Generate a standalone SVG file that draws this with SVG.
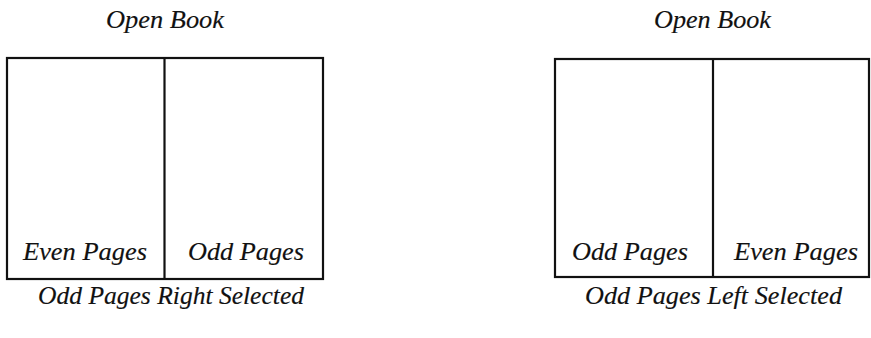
<svg xmlns="http://www.w3.org/2000/svg" width="871" height="338" viewBox="0 0 871 338">
<style>
text{font-family:'Liberation Serif','Times New Roman',Times,serif;font-style:italic;font-weight:normal;font-size:25px;fill:#111;stroke:#111;stroke-width:0.15}
.box{fill:none;stroke:#111;stroke-width:2.2}
</style>
<rect width="871" height="338" fill="#fff"/>
<g id="left-book">
<text x="106" y="28" textLength="118" lengthAdjust="spacingAndGlyphs">Open Book</text>
<rect class="box" x="7" y="58" width="316" height="221"/>
<line class="box" x1="164.5" y1="58" x2="164.5" y2="279"/>
<text x="23" y="260" textLength="124" lengthAdjust="spacingAndGlyphs">Even Pages</text>
<text x="188" y="260" textLength="116" lengthAdjust="spacingAndGlyphs">Odd Pages</text>
<text x="38" y="304" textLength="266" lengthAdjust="spacingAndGlyphs">Odd Pages Right Selected</text>
</g>
<g id="right-book">
<text x="654" y="28" textLength="117" lengthAdjust="spacingAndGlyphs">Open Book</text>
<rect class="box" x="555" y="59" width="314" height="218"/>
<line class="box" x1="713" y1="59" x2="713" y2="277"/>
<text x="572" y="260" textLength="116" lengthAdjust="spacingAndGlyphs">Odd Pages</text>
<text x="734" y="260" textLength="124" lengthAdjust="spacingAndGlyphs">Even Pages</text>
<text x="585" y="304" textLength="257" lengthAdjust="spacingAndGlyphs">Odd Pages Left Selected</text>
</g>
<g id="connectors"/>
</svg>
